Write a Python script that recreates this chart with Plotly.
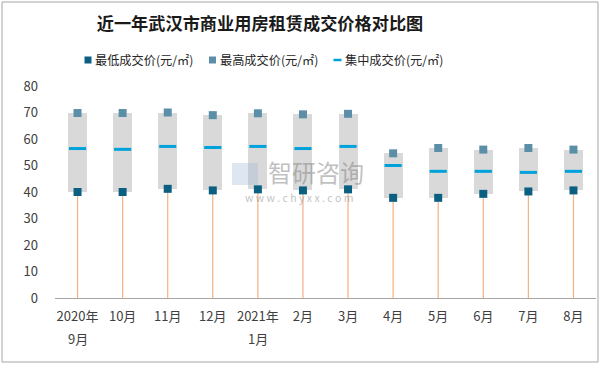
import plotly.graph_objects as go

categories = ["2020年\n9月", "10月", "11月", "12月", "2021年\n1月", "2月", "3月",
              "4月", "5月", "6月", "7月", "8月"]
low_price = [40.0, 40.0, 41.2, 40.6, 41.0, 40.6, 41.0, 37.8, 37.8, 39.3, 40.2, 40.6]
high_price = [69.8, 69.8, 70.0, 69.0, 69.7, 69.3, 69.5, 54.6, 56.6, 56.0, 56.6, 56.0]
mid_price = [56.4, 56.1, 57.2, 56.8, 57.2, 56.4, 57.2, 50.0, 47.8, 47.8, 47.4, 47.8]
series_names = ["最低成交价(元/㎡)", "最高成交价(元/㎡)", "集中成交价(元/㎡)"]

xs = list(range(len(categories)))
FONT = "Noto Sans CJK SC"
L, R, T, B = 55, 5, 86, 67
W, H = 601, 365
PW, PH = W - L - R, H - T - B
C_LOW, C_HIGH, C_MID = "#0B5F80", "#5B8FA8", "#00A2DB"


def px_x(p):
    return (p - L) / PW


def px_y(p):
    return (H - B - p) / PH


fig = go.Figure()

# gray range box (low -> high)
fig.add_trace(go.Bar(
    x=xs, y=[h - l for h, l in zip(high_price, low_price)], base=low_price,
    width=0.42, marker=dict(color="#D9D9D9", line=dict(width=0)),
    showlegend=False, hoverinfo="skip"))

# orange drop lines from 0 to low
lx, ly = [], []
for x, l in zip(xs, low_price):
    lx += [x, x, None]
    ly += [0, l, None]
fig.add_trace(go.Scatter(x=lx, y=ly, mode="lines",
                         line=dict(color="#F4B183", width=1.2),
                         showlegend=False, hoverinfo="skip"))

fig.add_trace(go.Scatter(x=xs, y=low_price, mode="markers", name=series_names[0],
                         showlegend=False,
                         marker=dict(symbol="square", size=8, color=C_LOW)))
fig.add_trace(go.Scatter(x=xs, y=high_price, mode="markers", name=series_names[1],
                         showlegend=False,
                         marker=dict(symbol="square", size=8, color=C_HIGH)))

mx, my = [], []
for x, m in zip(xs, mid_price):
    mx += [x - 0.19, x + 0.19, None]
    my += [m, m, None]
fig.add_trace(go.Scatter(x=mx, y=my, mode="lines", name=series_names[2],
                         showlegend=False,
                         line=dict(color=C_MID, width=3)))

first_lines = [c.split("\n")[0] for c in categories]

fig.update_layout(
    width=W, height=H,
    margin=dict(l=L, r=R, t=T, b=B),
    paper_bgcolor="white", plot_bgcolor="white",
    font=dict(family=FONT, size=13, color="#404040"),
    title=dict(text="<b>近一年武汉市商业用房租赁成交价格对比图</b>",
               x=260 / W, xanchor="center", y=1 - 24 / H, yanchor="middle",
               font=dict(family=FONT, size=17.2, color="#1a1a1a")),
    bargap=0,
    showlegend=False,
)
fig.update_xaxes(range=[-0.5, 11.5], tickvals=xs, ticktext=first_lines, automargin=False,
                 showgrid=False, zeroline=False, showline=True, linecolor="#A6A6A6",
                 linewidth=1, ticks="", tickfont=dict(size=13, color="#404040"),
                 ticklabelstandoff=6)
fig.update_yaxes(range=[0, 80], dtick=10, showgrid=False, zeroline=False, automargin=False,
                 showline=False, ticks="", tickfont=dict(size=13, color="#404040"),
                 ticklabelstandoff=16)

# legend (drawn in the original compact style: symbol directly before its text)
leg_y = px_y(60)
leg_sym_x = [88, 212.5, 337.5]
for i, (sx, name) in enumerate(zip(leg_sym_x, series_names)):
    if i < 2:
        fig.add_shape(type="rect", xref="paper", yref="paper",
                      x0=px_x(sx - 3.5), x1=px_x(sx + 3.5),
                      y0=px_y(63.5), y1=px_y(56.5),
                      line=dict(width=0), fillcolor=[C_LOW, C_HIGH][i])
    else:
        fig.add_shape(type="line", xref="paper", yref="paper",
                      x0=px_x(sx - 4), x1=px_x(sx + 4), y0=leg_y, y1=leg_y,
                      line=dict(color=C_MID, width=2.5))
    fig.add_annotation(text=name, xref="paper", yref="paper", x=px_x(sx + 5), y=leg_y,
                       xanchor="left", yanchor="middle", showarrow=False,
                       font=dict(size=12.2, color="#262626"))

# second lines of two-line category labels
for x, c in zip(xs, categories):
    parts = c.split("\n")
    if len(parts) > 1:
        fig.add_annotation(text=parts[1], x=x, xref="x", y=px_y(338), yref="paper",
                           yanchor="middle", showarrow=False,
                           font=dict(size=13, color="#404040"))

# watermark
fig.add_annotation(text="智研咨询", xref="paper", yref="paper", x=px_x(316), y=px_y(171),
                   yanchor="middle", showarrow=False,
                   font=dict(size=24, color="rgba(130,130,130,0.5)"))
fig.add_annotation(text="w w w . c h y x x . c o m", xref="paper", yref="paper",
                   x=px_x(299), y=px_y(197), yanchor="middle", showarrow=False,
                   font=dict(size=10.5, color="rgba(130,130,130,0.5)"))
fig.add_shape(type="rect", xref="paper", yref="paper",
              x0=px_x(232), x1=px_x(258), y0=px_y(185), y1=px_y(163),
              line=dict(width=0), fillcolor="rgba(160,185,215,0.35)")

# outer border
fig.add_shape(type="rect", xref="paper", yref="paper",
              x0=px_x(2), x1=px_x(598), y0=px_y(362), y1=px_y(2),
              line=dict(color="#A6A6A6", width=1))

fig.write_html("out.html", config={"displayModeBar": False},
               post_script="document.body.style.margin='0px';document.body.style.padding='0px';")
